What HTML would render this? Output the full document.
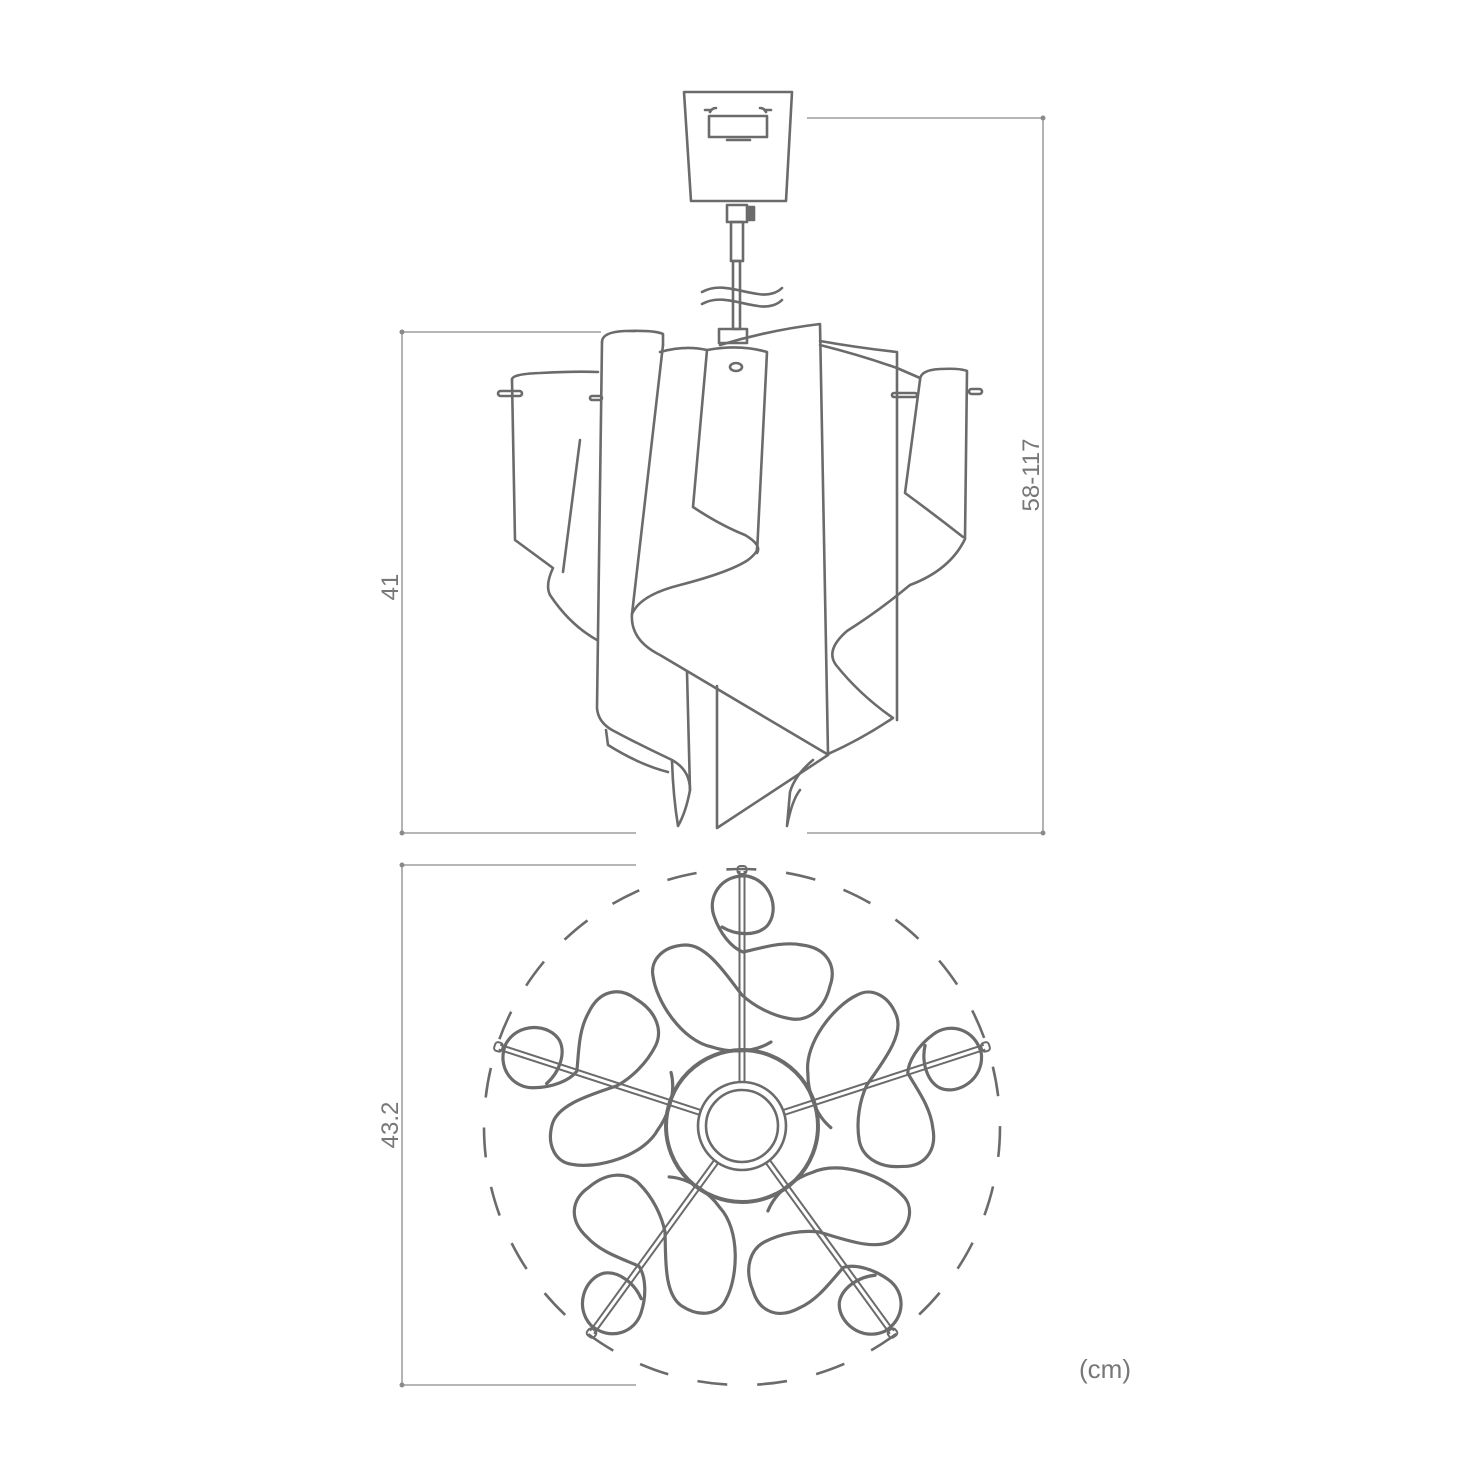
<!DOCTYPE html>
<html><head><meta charset="utf-8"><style>
html,body{margin:0;padding:0;background:#fff;}
svg{display:block;}
text{font-family:"Liberation Sans",sans-serif;fill:#777;font-weight:300;}
</style></head><body>
<svg width="1458" height="1458" viewBox="0 0 1458 1458" xmlns="http://www.w3.org/2000/svg">
<defs>
<g id="arm">
 <line x1="-2.5" y1="-44" x2="-2.5" y2="-255" stroke="#6b6b6b" stroke-width="2"/>
 <line x1="2.5" y1="-44" x2="2.5" y2="-255" stroke="#6b6b6b" stroke-width="2"/>
 <rect x="-4.5" y="-260" width="9" height="8" rx="3" fill="none" stroke="#6b6b6b" stroke-width="2"/>
 <path d="M-20,-199 C-5,-190 15,-190 25,-200 C38,-215 30,-245 5,-250 C-20,-252 -35,-230 -28,-210 C-22,-192 -10,-178 1,-174 C20,-178 40,-185 60,-181 C85,-178 95,-160 88,-140 C82,-115 65,-105 50,-107 C30,-110 12,-120 0,-131 C-15,-150 -35,-182 -57,-181 C-80,-180 -92,-165 -89,-150 C-86,-125 -60,-85 -30,-79 C-15,-74 10,-72 29,-84" fill="none" stroke="#6b6b6b" stroke-width="3.2" stroke-linecap="round"/>
</g>
</defs>
<g stroke="#8a8a8a" stroke-width="1.3" fill="#8a8a8a">
 <line x1="807" y1="118" x2="1043" y2="118"/>
 <line x1="1043" y1="118" x2="1043" y2="833"/>
 <line x1="807" y1="833" x2="1043" y2="833"/>
 <circle cx="1043" cy="118" r="2.5" stroke="none"/>
 <circle cx="1043" cy="833" r="2.5" stroke="none"/>
 <line x1="402" y1="332" x2="601" y2="332"/>
 <line x1="402" y1="332" x2="402" y2="833"/>
 <line x1="402" y1="833" x2="636" y2="833"/>
 <circle cx="402" cy="332" r="2.5" stroke="none"/>
 <circle cx="402" cy="833" r="2.5" stroke="none"/>
 <line x1="402" y1="865" x2="636" y2="865"/>
 <line x1="402" y1="865" x2="402" y2="1385"/>
 <line x1="402" y1="1385" x2="636" y2="1385"/>
 <circle cx="402" cy="865" r="2.5" stroke="none"/>
 <circle cx="402" cy="1385" r="2.5" stroke="none"/>
</g>
<text x="0" y="0" font-size="24" text-anchor="middle" transform="translate(1039,475) rotate(-90)">58-117</text>
<text x="0" y="0" font-size="24" text-anchor="middle" transform="translate(398,587) rotate(-90)">41</text>
<text x="0" y="0" font-size="24" text-anchor="middle" transform="translate(398,1125) rotate(-90)">43.2</text>
<text x="1105" y="1378" font-size="26" text-anchor="middle">(cm)</text>

<g fill="none" stroke="#6b6b6b" stroke-width="2.6" stroke-linejoin="round" stroke-linecap="round">
 <!-- canopy -->
 <path d="M684,92 L792,92 L786,201 L691,201 Z"/>
 <path d="M709,116 L767,116 L767,137 L709,137 Z"/>
 <path d="M710,112 Q712,108 716,108 M766,112 Q764,108 760,108" />
 <path d="M705,110 L711,110 M765,110 L771,110"/>
 <line x1="727" y1="140" x2="750" y2="140"/>
 <!-- stem -->
 <rect x="727" y="205" width="20" height="17"/>
 <rect x="731" y="222" width="12" height="39"/>
 <rect x="733" y="261" width="7" height="68"/>
 <rect x="748" y="207" width="6" height="13" fill="#6b6b6b"/>
 <path d="M702,292 C720,282 740,292 758,294 C770,296 778,292 782,288"/>
 <path d="M702,304 C720,294 740,304 758,306 C770,308 778,304 782,300"/>
 <rect x="719" y="329" width="28" height="14"/>

 <!-- left back panel -->
 <path d="M512,380 Q511,374 540,373 Q575,371 598,372"/>
 <path d="M512,380 L515,540 L553,568 Q545,585 550,595 Q570,625 597,640"/>
 <path d="M580,440 L563,572"/>
 <rect x="498" y="391" width="24" height="5" rx="2.5"/>
 <rect x="590" y="396" width="12" height="4" rx="2"/>
 <!-- panel A -->
 <path d="M602,342 Q602,332 625,331 Q655,330 663,334 L663,345"/>
 <path d="M602,342 L597,708 Q598,722 612,730 Q640,745 672,760 Q690,770 690,790"/>
 <path d="M606,730 L608,745 Q640,765 668,772"/>
 <path d="M663,345 L632,614 Q630,640 660,655 L827,754"/>
 <path d="M632,614 Q640,595 680,585 Q730,572 748,560 Q758,552 757,548"/>
 <path d="M660,352 Q685,345 707,350"/>
 <!-- panel B -->
 <path d="M707,350 L693,507 Q720,525 745,535 Q762,545 757,553 L767,352 Q740,344 707,350"/>
 <ellipse cx="736" cy="367" rx="6" ry="4"/>
 <!-- panel C -->
 <path d="M720,345 Q770,330 820,324 L828,754"/>
 <path d="M717,686 L717,828 L828,755"/>
 <path d="M687,672 L690,790 Q686,812 678,826 Q673,795 672,760"/>
 <path d="M813,760 Q795,775 790,792 L787,826 Q792,800 800,790"/>
 <!-- right back -->
 <path d="M820,341 Q860,348 897,352 L897,720"/>
 <path d="M820,345 Q860,355 897,368 L920,378"/>
 <path d="M920,380 Q920,370 940,369 Q960,368 967,371 L965,539 Q950,570 910,585 Q880,610 847,631 Q825,650 836,665 Q860,695 893,718 Q860,740 828,754"/>
 <path d="M920,380 L905,493 Q935,515 963,537"/>
 <rect x="892" y="393" width="25" height="4" rx="2"/>
 <rect x="969" y="389" width="13" height="5" rx="2.5"/>
</g>

<!-- bottom view -->
<circle cx="742" cy="1127" r="258" fill="none" stroke="#6b6b6b" stroke-width="2.6" stroke-dasharray="30 30"/>
<g transform="translate(742,1126)">
 <use href="#arm" transform="rotate(0)"/>
 <use href="#arm" transform="rotate(72)"/>
 <use href="#arm" transform="rotate(144)"/>
 <use href="#arm" transform="rotate(216)"/>
 <use href="#arm" transform="rotate(288)"/>
 <circle cx="0" cy="0" r="76" fill="none" stroke="#6b6b6b" stroke-width="4"/>
 <circle cx="0" cy="0" r="44" fill="#fff" stroke="#6b6b6b" stroke-width="2.6"/>
 <circle cx="0" cy="0" r="36" fill="none" stroke="#6b6b6b" stroke-width="2.6"/>
</g>
</svg>
</body></html>
